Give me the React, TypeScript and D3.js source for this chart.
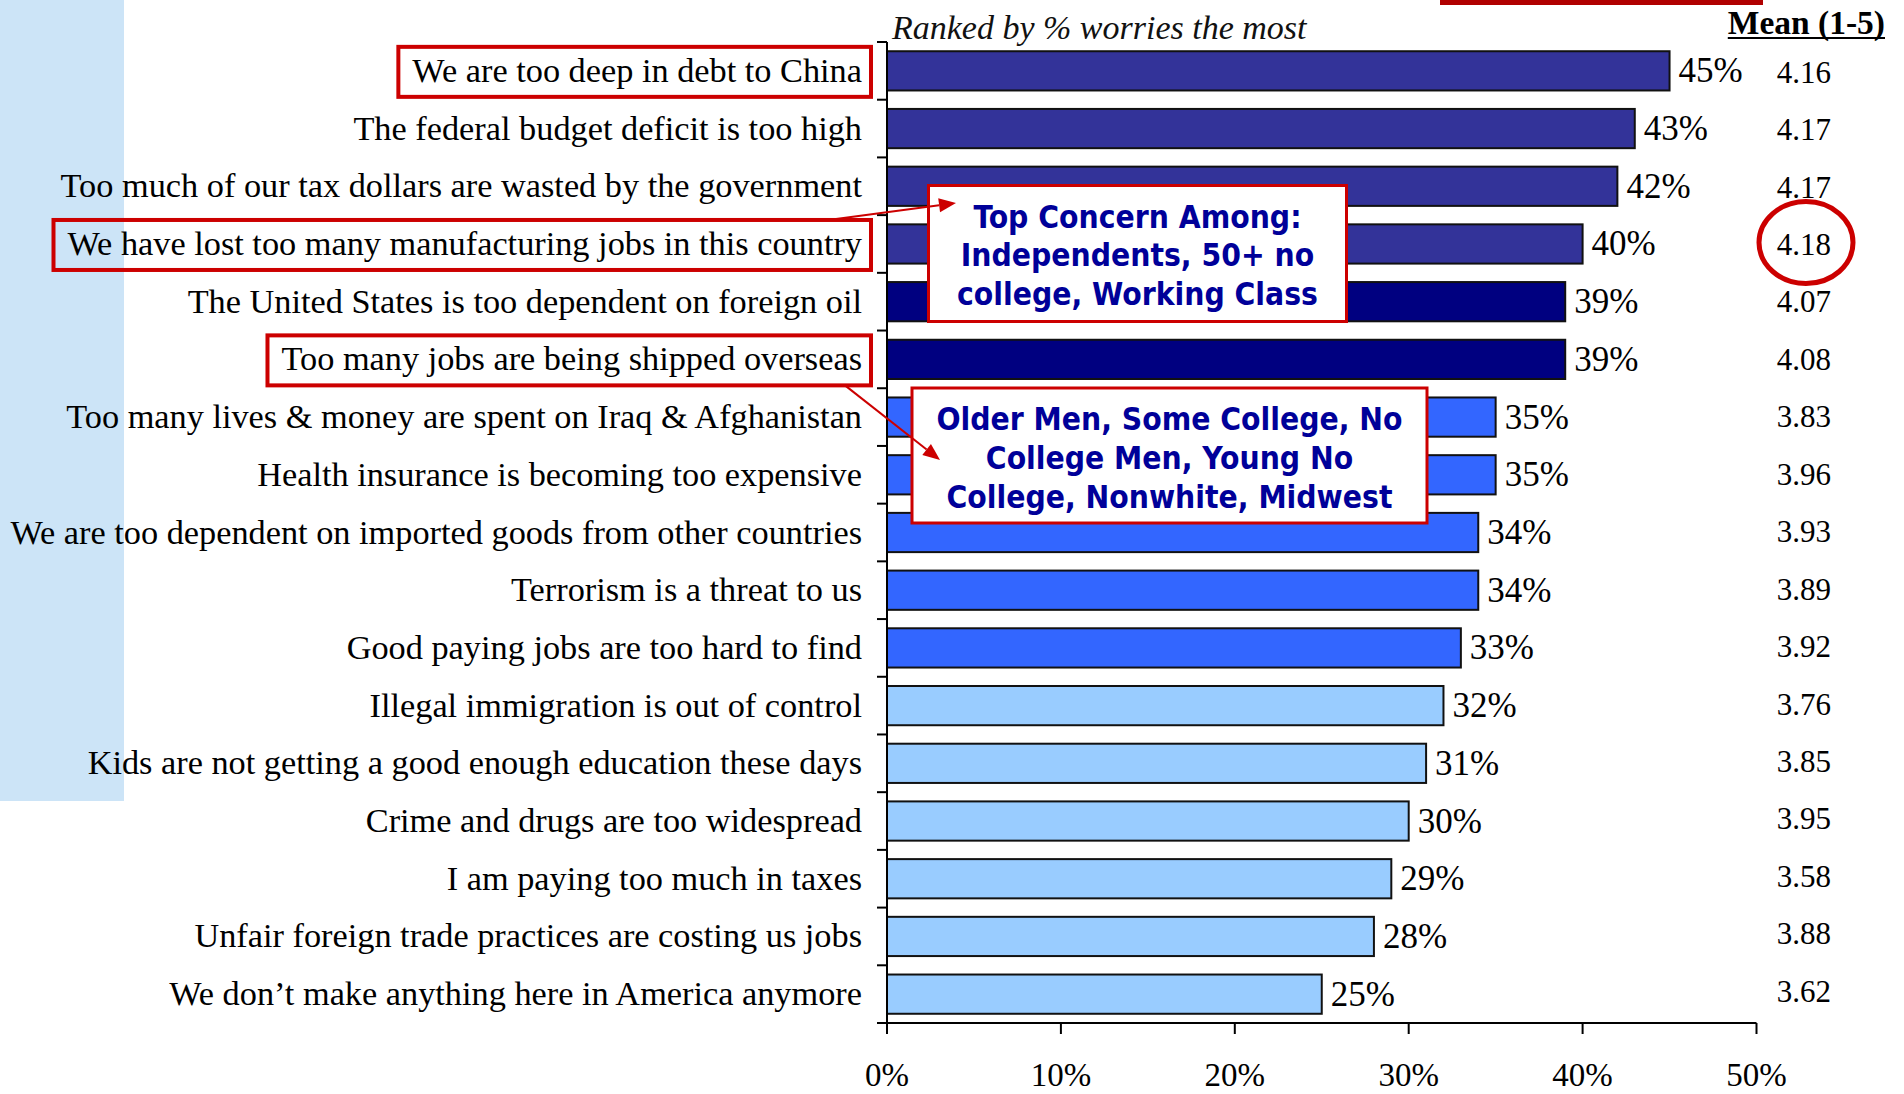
import React, { useEffect, useRef } from "react";
import * as d3 from "d3";

const categories = [
  "We are too deep in debt to China",
  "The federal budget deficit is too high",
  "Too much of our tax dollars are wasted by the government",
  "We have lost too many manufacturing jobs in this country",
  "The United States is too dependent on foreign oil",
  "Too many jobs are being shipped overseas",
  "Too many lives & money are spent on Iraq & Afghanistan",
  "Health insurance is becoming too expensive",
  "We are too dependent on imported goods from other countries",
  "Terrorism is a threat to us",
  "Good paying jobs are too hard to find",
  "Illegal immigration is out of control",
  "Kids are not getting a good enough education these days",
  "Crime and drugs are too widespread",
  "I am paying too much in taxes",
  "Unfair foreign trade practices are costing us jobs",
  "We don\u2019t make anything here in America anymore",
];
const percents = [45, 43, 42, 40, 39, 39, 35, 35, 34, 34, 33, 32, 31, 30, 29, 28, 25];
const means = ["4.16", "4.17", "4.17", "4.18", "4.07", "4.08", "3.83", "3.96", "3.93", "3.89", "3.92", "3.76", "3.85", "3.95", "3.58", "3.88", "3.62"];
const barGroup = [0, 0, 0, 0, 1, 1, 2, 2, 2, 2, 2, 3, 3, 3, 3, 3, 3];
const groupColors = ["#333399", "#000080", "#3366FF", "#99CCFF"];
const xTicks = [0, 10, 20, 30, 40, 50];
const highlightedRows = [0, 3, 5];
const circledRow = 3;
const subtitle = "Ranked by % worries the most";
const meanHeader = "Mean (1-5)";
const callout1 = ["Top Concern Among:", "Independents, 50+ no", "college, Working Class"];
const callout2 = ["Older Men, Some College, No", "College Men, Young No", "College, Nonwhite, Midwest"];

const SERIF = "'Liberation Serif', 'Times New Roman', serif";
const SANS = "'DejaVu Sans Condensed', 'DejaVu Sans', sans-serif";
const RED = "#CC0000";

export default function App() {
  const ref = useRef<SVGSVGElement>(null);

  useEffect(() => {
    const svg = d3.select(ref.current);
    svg.selectAll("*").remove();

    const x = d3.scaleLinear().domain([0, 50]).range([887, 1756.5]);
    const y = d3
      .scaleBand<string>()
      .domain(categories)
      .range([42, 1023])
      .paddingInner(0.32)
      .paddingOuter(0.16);
    const meanY = d3.scalePoint<string>().domain(categories).range([82.7, 1001.7]);
    const step = y.step();
    const center = (c: string) => (y(c) as number) + y.bandwidth() / 2;

    // background decorations
    svg.append("rect").attr("x", 0).attr("y", 0).attr("width", 124).attr("height", 801).attr("fill", "#CCE4F7");
    svg.append("rect").attr("x", 1440).attr("y", 0).attr("width", 323).attr("height", 5).attr("fill", "#B00000");

    // subtitle
    svg
      .append("text")
      .attr("x", 892)
      .attr("y", 39)
      .attr("font-family", SERIF)
      .attr("font-style", "italic")
      .attr("font-size", 34)
      .attr("fill", "#111")
      .text(subtitle);

    // Mean header
    const mh = svg
      .append("text")
      .attr("x", 1885)
      .attr("y", 34)
      .attr("text-anchor", "end")
      .attr("font-family", SERIF)
      .attr("font-weight", "bold")
      .attr("font-size", 33.5)
      .attr("fill", "#000")
      .text(meanHeader);
    const mhLen = (mh.node() as SVGTextElement).getComputedTextLength();
    svg
      .append("line")
      .attr("x1", 1885 - mhLen)
      .attr("x2", 1885)
      .attr("y1", 38)
      .attr("y2", 38)
      .attr("stroke", "#000")
      .attr("stroke-width", 2);

    // bars
    svg
      .append("g")
      .selectAll("rect")
      .data(categories)
      .join("rect")
      .attr("x", x(0))
      .attr("y", (c) => y(c) as number)
      .attr("width", (_c, i) => x(percents[i]) - x(0))
      .attr("height", y.bandwidth())
      .attr("fill", (_c, i) => groupColors[barGroup[i]])
      .attr("stroke", "#111")
      .attr("stroke-width", 2);

    // axes
    const ax = svg.append("g").attr("stroke", "#000").attr("stroke-width", 2);
    ax.append("line").attr("x1", x(0)).attr("x2", x(0)).attr("y1", 42).attr("y2", 1023);
    const bounds = d3.range(categories.length + 1).map((i) => 42 + i * step);
    ax.selectAll("line.yt")
      .data(bounds)
      .join("line")
      .attr("class", "yt")
      .attr("x1", x(0) - 10)
      .attr("x2", x(0))
      .attr("y1", (d) => d)
      .attr("y2", (d) => d);
    ax.append("line").attr("x1", x(0) - 10).attr("x2", x(50)).attr("y1", 1023).attr("y2", 1023);
    ax.selectAll("line.xt")
      .data(xTicks)
      .join("line")
      .attr("class", "xt")
      .attr("x1", (d) => x(d))
      .attr("x2", (d) => x(d))
      .attr("y1", 1023)
      .attr("y2", 1034);
    svg
      .append("g")
      .selectAll("text")
      .data(xTicks)
      .join("text")
      .attr("x", (d) => x(d))
      .attr("y", 1086)
      .attr("text-anchor", "middle")
      .attr("font-family", SERIF)
      .attr("font-size", 33)
      .attr("fill", "#000")
      .text((d) => `${d}%`);

    // category labels
    const labels = svg
      .append("g")
      .selectAll("text")
      .data(categories)
      .join("text")
      .attr("x", 862)
      .attr("y", (c) => center(c) + 11)
      .attr("text-anchor", "end")
      .attr("font-family", SERIF)
      .attr("font-size", 34.3)
      .attr("fill", "#000")
      .text((c) => c);

    // value labels
    svg
      .append("g")
      .selectAll("text")
      .data(categories)
      .join("text")
      .attr("x", (_c, i) => x(percents[i]) + 9)
      .attr("y", (c) => center(c) + 11.5)
      .attr("font-family", SERIF)
      .attr("font-size", 35)
      .attr("fill", "#000")
      .text((_c, i) => `${percents[i]}%`);

    // means
    svg
      .append("g")
      .selectAll("text")
      .data(categories)
      .join("text")
      .attr("x", 1831)
      .attr("y", (c) => meanY(c) as number)
      .attr("text-anchor", "end")
      .attr("font-family", SERIF)
      .attr("font-size", 31)
      .attr("fill", "#000")
      .text((_c, i) => means[i]);

    // highlight boxes around labels
    const labelNodes = labels.nodes() as SVGTextElement[];
    highlightedRows.forEach((r) => {
      const len = labelNodes[r].getComputedTextLength();
      const left = 862 - len - 14;
      const cy = center(categories[r]) + 1;
      svg
        .append("rect")
        .attr("x", left)
        .attr("y", cy - 25)
        .attr("width", 871 - left)
        .attr("height", 50)
        .attr("fill", "none")
        .attr("stroke", RED)
        .attr("stroke-width", 4);
    });

    // arrows
    const arrow = (x1: number, y1: number, x2: number, y2: number) => {
      const ang = Math.atan2(y2 - y1, x2 - x1);
      const L = 17,
        Wd = 7;
      const bx = x2 - L * Math.cos(ang),
        by = y2 - L * Math.sin(ang);
      svg
        .append("line")
        .attr("x1", x1)
        .attr("y1", y1)
        .attr("x2", bx)
        .attr("y2", by)
        .attr("stroke", RED)
        .attr("stroke-width", 2);
      const px = -Math.sin(ang) * Wd,
        py = Math.cos(ang) * Wd;
      svg
        .append("polygon")
        .attr("points", `${x2},${y2} ${bx + px},${by + py} ${bx - px},${by - py}`)
        .attr("fill", RED);
    };

    // callouts
    const callout = (lines: string[], bx: number, by: number, bw: number, bh: number) => {
      svg
        .append("rect")
        .attr("x", bx)
        .attr("y", by)
        .attr("width", bw)
        .attr("height", bh)
        .attr("fill", "#fff")
        .attr("stroke", RED)
        .attr("stroke-width", 3);
      svg
        .append("g")
        .selectAll("text")
        .data(lines)
        .join("text")
        .attr("x", bx + bw / 2)
        .attr("y", (_d, i) => by + 42 + i * 38.8)
        .attr("text-anchor", "middle")
        .attr("font-family", SANS)
        .attr("font-weight", "bold")
        .attr("font-size", 31.5)
        .attr("fill", "#000099")
        .text((d) => d);
    };

    const r3 = center(categories[3]);
    const r5 = center(categories[5]);
    callout(callout1, 928.5, 185.5, 418, 136);
    arrow(836, r3 - 25, 956, 203);
    callout(callout2, 912, 388, 515, 135);
    arrow(845, r5 + 26, 940, 460);

    // circle around mean
    const cy = (meanY(categories[circledRow]) as number) - 12.5;
    svg
      .append("ellipse")
      .attr("cx", 1806)
      .attr("cy", cy)
      .attr("rx", 47)
      .attr("ry", 41)
      .attr("fill", "none")
      .attr("stroke", RED)
      .attr("stroke-width", 5);
  }, []);

  return (
    <svg
      ref={ref}
      width={1904}
      height={1094}
      style={{ position: "absolute", left: 0, top: 0, background: "#fff" }}
    />
  );
}
